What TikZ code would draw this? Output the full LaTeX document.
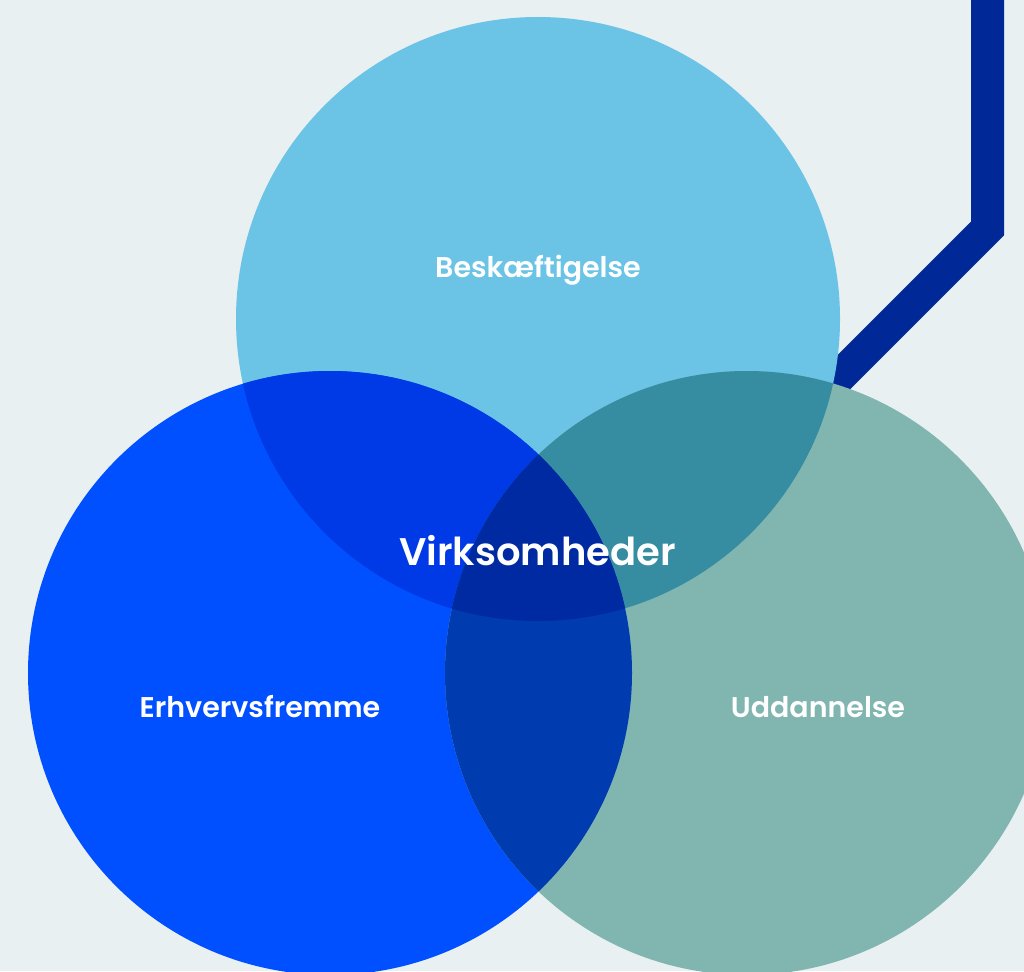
\documentclass[tikz,border=0pt]{standalone}
\usepackage{fontspec}
\newfontfamily\pop{Poppins SemiBold}
\definecolor{bgcol}{HTML}{E8F0F2}
\definecolor{linecol}{HTML}{002896}
\definecolor{topcol}{HTML}{6BC3E6}
\definecolor{leftcol}{HTML}{0050FF}
\definecolor{rightcol}{HTML}{80B5B0}
\definecolor{tlcol}{HTML}{0039E6}
\definecolor{trcol}{HTML}{368CA1}
\definecolor{lrcol}{HTML}{003BB0}
\definecolor{allcol}{HTML}{002AA1}
\tikzset{
  lbl/.style={text=white, font=\pop\fontsize{28.5}{30}\selectfont, inner sep=0pt, anchor=base},
  biglbl/.style={text=white, font=\pop\fontsize{38.5}{40}\selectfont, inner sep=0pt, anchor=base},
}
\begin{document}
\begin{tikzpicture}[x=1pt,y=-1pt]
\fill[bgcol] (0,0) rectangle (1024,971);
\useasboundingbox (0,0) rectangle (1024,971);
\coordinate (T) at (538,319);
\coordinate (L) at (330,673);
\coordinate (R) at (747,673);
\coordinate (p0) at (987.5,-20);
\coordinate (p1) at (987.5,228.5);
\coordinate (p2) at (780,436);
\draw[linecol, line width=33pt, line join=miter] (p0) -- (p1) -- (p2);
\fill[topcol] (T) circle (302pt);
\fill[leftcol] (L) circle (302pt);
\fill[rightcol] (R) circle (302pt);
\begin{scope}
  \clip (T) circle (302pt);
  \fill[tlcol] (L) circle (302pt);
  \fill[trcol] (R) circle (302pt);
\end{scope}
\begin{scope}
  \clip (L) circle (302pt);
  \fill[lrcol] (R) circle (302pt);
  \clip (R) circle (302pt);
  \fill[allcol] (T) circle (302pt);
\end{scope}
\node[lbl] (besk) at (538,277) {Beskæftigelse};
\node[lbl] (erhv) at (260,717) {Erhvervsfremme};
\node[lbl] (udd) at (818,717) {Uddannelse};
\node[biglbl] (virk) at (537.5,565) {Virksomheder};
\end{tikzpicture}
\end{document}
